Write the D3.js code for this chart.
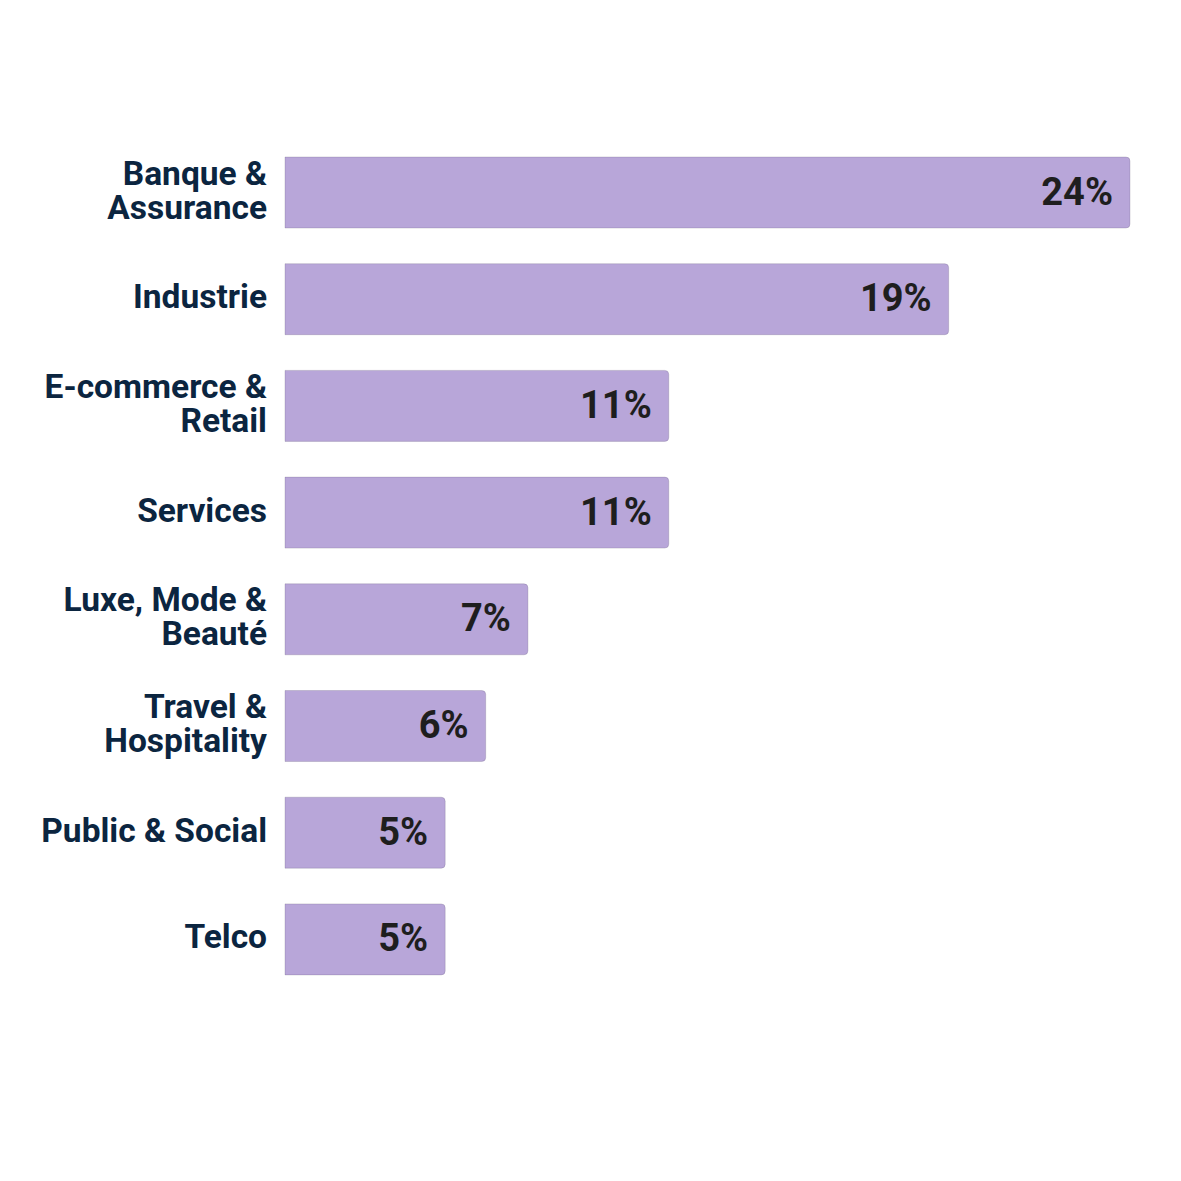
<!DOCTYPE html>
<html>
<head>
<meta charset="utf-8">
<script src="https://cdn.jsdelivr.net/npm/d3@7"></script>
<style>
  html, body { margin: 0; padding: 0; background: #fff; }
  svg { display: block; }
</style>
</head>
<body>
<div id="chart"></div>
<script>
// categories (each entry = lines of the label)
var categories = [
  ["Banque &", "Assurance"],
  ["Industrie"],
  ["E-commerce &", "Retail"],
  ["Services"],
  ["Luxe, Mode &", "Beauté"],
  ["Travel &", "Hospitality"],
  ["Public & Social"],
  ["Telco"]
]
// share of each sector (%)
var values = [24, 18.85, 10.9, 10.9, 6.9, 5.7, 4.55, 4.55]
// printed labels
var valueLabels = ["24%", "19%", "11%", "11%", "7%", "6%", "5%", "5%"]

var W = 1181, H = 1181
var barLeft = 285, barRight = 1130
var barTop = 157, bandH = 71, step = 106.7

var svg = d3.select("#chart").append("svg")
  .attr("width", W)
  .attr("height", H)

var x = d3.scaleLinear()
  .domain([0, 24])
  .range([barLeft, barRight])

var y = d3.scaleBand()
  .domain(d3.range(categories.length))
  .range([barTop, barTop + (categories.length - 1) * step + bandH])
  .paddingInner(1 - bandH / step)
  .paddingOuter(0)

// bar with square left side and rounded right corners
function barPath(x0, x1, y0, h, r) {
  return "M" + x0 + "," + y0 +
    "H" + (x1 - r) +
    "Q" + x1 + "," + y0 + " " + x1 + "," + (y0 + r) +
    "V" + (y0 + h - r) +
    "Q" + x1 + "," + (y0 + h) + " " + (x1 - r) + "," + (y0 + h) +
    "H" + x0 + "Z"
}

var rows = svg.selectAll("g.row")
  .data(values)
  .enter()
  .append("g")
  .attr("class", "row")

rows.append("path")
  .attr("d", (d, i) => barPath(x(0), x(d), y(i), y.bandwidth(), 4))
  .attr("fill", "#b8a6d9")
  .attr("stroke", "rgba(90,80,110,0.22)")
  .attr("stroke-width", 1)

rows.append("text")
  .attr("x", d => x(d) - 17)
  .attr("y", (d, i) => y(i) + y.bandwidth() / 2 + 12)
  .attr("text-anchor", "end")
  .attr("font-family", "Roboto, sans-serif")
  .attr("font-weight", 700)
  .attr("font-size", 38)
  .attr("fill", "#1e1e1e")
  .text((d, i) => valueLabels[i])

// category labels
var lineH = 34
var cat = svg.selectAll("text.cat")
  .data(categories)
  .enter()
  .append("text")
  .attr("class", "cat")
  .attr("text-anchor", "end")
  .attr("font-family", "Roboto, sans-serif")
  .attr("font-weight", 700)
  .attr("font-size", 33.5)
  .attr("fill", "#0b2540")

cat.each(function(lines, i) {
  var cy = y(i) + y.bandwidth() / 2
  var first = cy + 9 - (lines.length - 1) * lineH / 2
  d3.select(this).selectAll("tspan")
    .data(lines)
    .enter()
    .append("tspan")
    .attr("x", 267)
    .attr("y", (l, j) => first + j * lineH)
    .text(l => l)
})
</script>
</body>
</html>
